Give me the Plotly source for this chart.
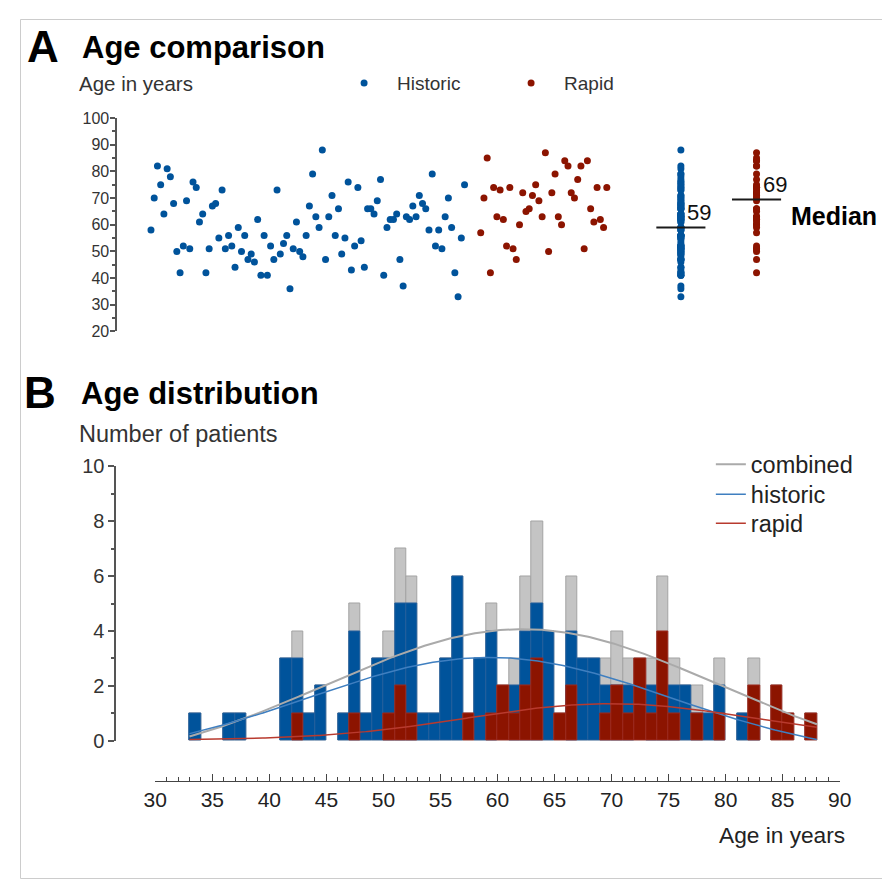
import numpy as np
import plotly.graph_objects as go

# ---------------- data (ages in years, in plotting order) ----------------
historic_age = [58, 70, 82, 75, 64, 81, 78, 68, 50, 42, 52, 69, 51, 76, 74, 61, 64, 42, 51, 67,
                68, 55, 73, 51, 56, 52, 44, 59, 50, 56, 47, 49, 46, 62, 41, 56, 41, 52, 47, 73,
                49, 53, 56, 36, 51, 61, 50, 48, 56, 67, 79, 63, 59, 88, 47, 63, 71, 56, 66, 49,
                55, 76, 43, 52, 74, 54, 44, 66, 66, 64, 69, 77, 41, 59, 62, 62, 64, 47, 37, 63,
                62, 67, 63, 71, 68, 66, 58, 79, 52, 58, 51, 63, 70, 59, 42, 33, 55, 75]
rapid_age = [57, 70, 85, 42, 74, 63, 73, 62, 52, 74, 51, 47, 60, 72, 65, 66, 71, 75, 69, 63,
             87, 50, 72, 79, 63, 60, 84, 82, 72, 70, 77, 82, 51, 84, 66, 61, 74, 62, 59, 74]
group_names = ["Historic", "Rapid"]
curve_names = ["combined", "historic", "rapid"]
age_ticks_a = [20, 30, 40, 50, 60, 70, 80, 90, 100]
count_ticks_b = [0, 2, 4, 6, 8, 10]
age_ticks_b = list(range(30, 95, 5))

# ---------------- styling ----------------
BLUE = "#00539b"
RED = "#8c1400"
GRAY = "#c4c4c4"
TXT = "#222222"
FONT = "Liberation Sans, Arial, Helvetica, sans-serif"

W, H = 890, 882
# mapping from target picture pixels to layout pixels (compensates the page photo)
SX, OX, SY, OY = 0.971, 20.0, 0.974, 18.0
def lx(p):
    return (p - OX) / SX
def ly(p):
    return (p - OY) / SY
def fx(p):
    return lx(p) / W
def fy(p):
    return 1 - ly(p) / H

hist = np.array(historic_age, dtype=float)
rap = np.array(rapid_age, dtype=float)
comb = np.concatenate([hist, rap])

n_h, n_r = len(hist), len(rap)
x_h = np.arange(n_h)
x_r = n_h + 4 + np.arange(n_r)
STEP, X0 = 3.226, 150.7          # pixel spacing of the strip points in the target
col_h = (679.5 - X0) / STEP
col_r = (755.0 - X0) / STEP
half = 24.5 / STEP

fig = go.Figure()

# ---------------- Panel A ----------------
fig.add_trace(go.Scatter(x=x_h, y=hist, mode="markers", name=group_names[0],
                         marker=dict(color=BLUE, size=7), xaxis="x", yaxis="y",
                         legend="legend"))
fig.add_trace(go.Scatter(x=x_r, y=rap, mode="markers", name=group_names[1],
                         marker=dict(color=RED, size=7), xaxis="x", yaxis="y",
                         legend="legend"))
fig.add_trace(go.Scatter(x=np.full(n_h, col_h), y=hist, mode="markers", showlegend=False,
                         marker=dict(color=BLUE, size=7), xaxis="x", yaxis="y"))
fig.add_trace(go.Scatter(x=np.full(n_r, col_r), y=rap, mode="markers", showlegend=False,
                         marker=dict(color=RED, size=7), xaxis="x", yaxis="y"))

med_h = float(np.median(hist))
med_r = float(np.median(rap))
for c, m, dx in [(col_h, med_h, 1.2), (col_r, med_r, 1.5)]:
    fig.add_shape(type="line", xref="x", yref="y", x0=c - half, x1=c + half, y0=m, y1=m,
                  line=dict(color="#1a1a1a", width=2))
    fig.add_annotation(x=c + dx, y=m, xref="x", yref="y", text=f"{int(m)}", showarrow=False,
                       xanchor="left", yanchor="bottom", font=dict(family=FONT, size=22, color="#111"))

# ---------------- Panel B ----------------
bins = dict(start=33, end=88, size=1)
for data, fill, edge in [(comb, GRAY, "#a3a3a3"), (hist, BLUE, "#235f9c"), (rap, RED, "#9c2a1e")]:
    fig.add_trace(go.Histogram(x=data, xbins=bins, autobinx=False, xaxis="x2", yaxis="y2",
                               marker=dict(color=fill, line=dict(color=edge, width=1)),
                               opacity=1, showlegend=False, hoverinfo="skip"))

# Gaussian (with baseline) least-squares fit to each histogram
edges = np.arange(33, 89)
centers = edges[:-1] + 0.5
def gauss_fit(data):
    counts, _ = np.histogram(data, bins=edges)
    y = counts.astype(float)
    ms = np.arange(45, 80, 0.1)[:, None, None]
    ss = np.arange(6, 25, 0.1)[None, :, None]
    g = np.exp(-0.5 * ((centers[None, None, :] - ms) / ss) ** 2)
    n = len(y)
    Sg, Sgg, Sgy = g.sum(-1), (g * g).sum(-1), (g * y).sum(-1)
    Sy, Syy = y.sum(), (y * y).sum()
    A = (n * Sgy - Sg * Sy) / (n * Sgg - Sg ** 2)
    y0 = (Sy - A * Sg) / n
    sse = Syy - A * Sgy - y0 * Sy
    i, j = np.unravel_index(np.argmin(sse), sse.shape)
    return ms[i, 0, 0], ss[0, j, 0], A[i, j], y0[i, j]

xc = np.linspace(33, 88, 300)
legends = ["legend2", "legend3", "legend4"]
for (data, col, w, nm), lg in zip([(comb, "#aaaaaa", 2, curve_names[0]),
                                   (hist, "#3f7fc0", 1.5, curve_names[1]),
                                   (rap, "#b83a2e", 1.5, curve_names[2])], legends):
    mu, sd, amp, base = gauss_fit(data)
    yc = base + amp * np.exp(-0.5 * ((xc - mu) / sd) ** 2)
    fig.add_trace(go.Scatter(x=xc, y=yc, mode="lines", name=nm, line=dict(color=col, width=w),
                             xaxis="x2", yaxis="y2", legend=lg))

tickfont = dict(family=FONT, size=16, color="#333")
leg_common = dict(orientation="v", xanchor="left", yanchor="middle",
                  font=dict(family=FONT, size=23.5, color="#222"), bgcolor="rgba(0,0,0,0)")
fig.update_layout(
    width=W, height=H, margin=dict(l=0, r=0, t=0, b=0),
    paper_bgcolor="white", plot_bgcolor="white",
    barmode="overlay", bargap=0,
    showlegend=True,
    xaxis=dict(domain=[fx(117), fx(870)], range=[(117 - X0) / STEP, (870 - X0) / STEP],
               visible=False, fixedrange=True),
    yaxis=dict(domain=[fy(330), fy(117)], range=[20, 100], tickvals=age_ticks_a,
               showline=True, linecolor="#555", linewidth=1.5, ticks="outside", ticklen=5,
               tickcolor="#555", tickwidth=1.5, showgrid=False, zeroline=False,
               tickfont=tickfont, ticklabelstandoff=-2,
               minor=dict(dtick=5, ticks="outside", ticklen=3, tickcolor="#555", showgrid=False)),
    xaxis2=dict(domain=[fx(155), fx(838)], range=[30, 90], anchor="free", position=fy(779),
                tickvals=age_ticks_b, showline=True, linecolor="#444", linewidth=1.2,
                ticks="inside", ticklen=7, tickcolor="#444", showgrid=False, zeroline=False,
                tickfont=dict(family=FONT, size=21, color="#222"),
                minor=dict(dtick=1, ticks="inside", ticklen=4, tickcolor="#444", showgrid=False)),
    yaxis2=dict(domain=[fy(739), fy(465)], range=[0, 10], anchor="free", position=fx(115),
                tickvals=count_ticks_b, showline=True, linecolor="#555", linewidth=1.5,
                ticks="outside", ticklen=6, tickcolor="#555", tickwidth=1.5, showgrid=False,
                zeroline=False, tickfont=dict(family=FONT, size=20, color="#333"),
                minor=dict(dtick=1, ticks="outside", ticklen=3, tickcolor="#555", showgrid=False)),
    legend=dict(orientation="h", x=(lx(365) - 35.6) / W, y=fy(82), xanchor="left", yanchor="middle",
                font=dict(family=FONT, size=19, color="#333"), itemwidth=56, entrywidth=96,
                bgcolor="rgba(0,0,0,0)"),
    legend2=dict(leg_common, x=710 / W, y=fy(463)),
    legend3=dict(leg_common, x=710 / W, y=fy(493)),
    legend4=dict(leg_common, x=710 / W, y=fy(522)),
)

# frame
fig.add_shape(type="rect", xref="paper", yref="paper", x0=0.5 / W, x1=889.5 / W,
              y0=1 - 881.5 / H, y1=1 - 0.5 / H, line=dict(color="#cccccc", width=1))

def label(x, y, text, size, bold=False, color=TXT, anchor="left"):
    xx = lx(x) - 3 if anchor == "left" else lx(x) + 3
    fig.add_annotation(x=xx / W, y=fy(y), xref="paper", yref="paper", showarrow=False,
                       text=f"<b>{text}</b>" if bold else text, xanchor=anchor, yanchor="middle",
                       font=dict(family=FONT, size=size, color=color))

label(28, 45, "A", 44, bold=True, color="#000")
label(83, 46, "Age comparison", 31, bold=True, color="#000")
label(80, 82, "Age in years", 20.5, color="#333")
label(790, 215, "Median", 25, bold=True, color="#000")
label(25, 391, "B", 44, bold=True, color="#000")
label(82, 392, "Age distribution", 31, bold=True, color="#000")
label(80, 433, "Number of patients", 23.5, color="#333")
label(842, 833, "Age in years", 22.7, color="#222", anchor="right")

fig.write_html("out.html")
